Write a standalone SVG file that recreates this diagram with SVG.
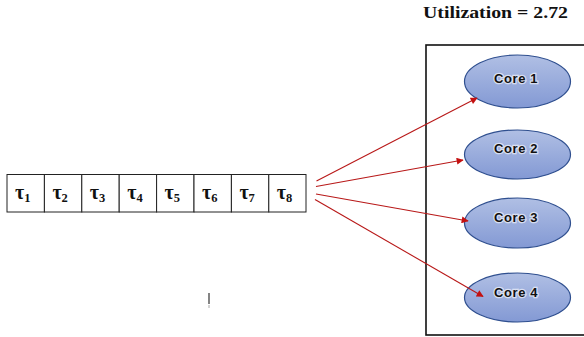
<svg xmlns="http://www.w3.org/2000/svg" width="584" height="337" viewBox="0 0 584 337">
<style>
.cell{fill:#fff;stroke:#222;stroke-width:1}
.tau{font-family:"Liberation Serif","DejaVu Serif",serif;font-weight:bold;font-size:20px;fill:#111}
.sub{font-size:12.5px}
.core{fill:url(#cg);stroke:#2f4f8f;stroke-width:1.2}
.clab{font-family:"Liberation Sans",Arial,sans-serif;font-weight:bold;font-size:13px;letter-spacing:0.6px;fill:#111;text-anchor:middle;stroke:#fff;stroke-width:2.5;paint-order:stroke;stroke-opacity:0.6}
.arr{stroke:#b81818;stroke-width:1.1;fill:none;marker-end:url(#ah)}
</style>
<defs>
<linearGradient id="cg" x1="0" y1="0" x2="0" y2="1">
<stop offset="0" stop-color="#b0bfe4"/>
<stop offset="1" stop-color="#8399d4"/>
</linearGradient>
<marker id="ah" viewBox="0 0 10 10" refX="9" refY="5" markerWidth="9" markerHeight="7" markerUnits="userSpaceOnUse" orient="auto">
<path d="M0,0 L10,5 L0,10 z" fill="#c41010"/>
</marker>
</defs>
<rect width="584" height="337" fill="#fff"/>
<text x="423" y="18" font-family="Liberation Serif,serif" font-weight="bold" font-size="16" fill="#111" textLength="145" lengthAdjust="spacingAndGlyphs">Utilization = 2.72</text>
<rect x="426" y="45" width="170" height="290" fill="none" stroke="#111" stroke-width="1.6"/>
<g id="queue">
<rect class="cell" x="7" y="174.5" width="37.4" height="37.5"/>
<rect class="cell" x="44.4" y="174.5" width="37.4" height="37.5"/>
<rect class="cell" x="81.8" y="174.5" width="37.4" height="37.5"/>
<rect class="cell" x="119.2" y="174.5" width="37.4" height="37.5"/>
<rect class="cell" x="156.6" y="174.5" width="37.4" height="37.5"/>
<rect class="cell" x="194" y="174.5" width="37.4" height="37.5"/>
<rect class="cell" x="231.4" y="174.5" width="37.4" height="37.5"/>
<rect class="cell" x="268.8" y="174.5" width="37.2" height="37.5"/>
<text class="tau" x="15" y="199">τ<tspan class="sub" dy="3">1</tspan></text>
<text class="tau" x="52.4" y="199">τ<tspan class="sub" dy="3">2</tspan></text>
<text class="tau" x="89.8" y="199">τ<tspan class="sub" dy="3">3</tspan></text>
<text class="tau" x="127.2" y="199">τ<tspan class="sub" dy="3">4</tspan></text>
<text class="tau" x="164.6" y="199">τ<tspan class="sub" dy="3">5</tspan></text>
<text class="tau" x="202" y="199">τ<tspan class="sub" dy="3">6</tspan></text>
<text class="tau" x="239.4" y="199">τ<tspan class="sub" dy="3">7</tspan></text>
<text class="tau" x="276.8" y="199">τ<tspan class="sub" dy="3">8</tspan></text>
</g>
<g id="core1"><ellipse class="core" cx="517.5" cy="81.5" rx="53" ry="26.5"/><text class="clab" x="516" y="83">Core 1</text></g>
<g id="core2"><ellipse class="core" cx="517.5" cy="154.5" rx="53" ry="24.5"/><text class="clab" x="516" y="153">Core 2</text></g>
<g id="core3"><ellipse class="core" cx="517.5" cy="223" rx="53" ry="25"/><text class="clab" x="516" y="222">Core 3</text></g>
<g id="core4"><ellipse class="core" cx="517.5" cy="297.5" rx="53" ry="24.5"/><text class="clab" x="516" y="297">Core 4</text></g>
<g id="connectors">
<line class="arr" x1="316.5" y1="181" x2="477" y2="98"/>
<line class="arr" x1="316" y1="186.5" x2="463" y2="160"/>
<line class="arr" x1="316" y1="194" x2="468" y2="221"/>
<line class="arr" x1="315" y1="199.5" x2="483" y2="296.5"/>
</g>
<line x1="209" y1="293" x2="209" y2="304" stroke="#333" stroke-width="1.2"/>
<line x1="209" y1="305" x2="209" y2="308" stroke="#aaa" stroke-width="1"/>
</svg>
